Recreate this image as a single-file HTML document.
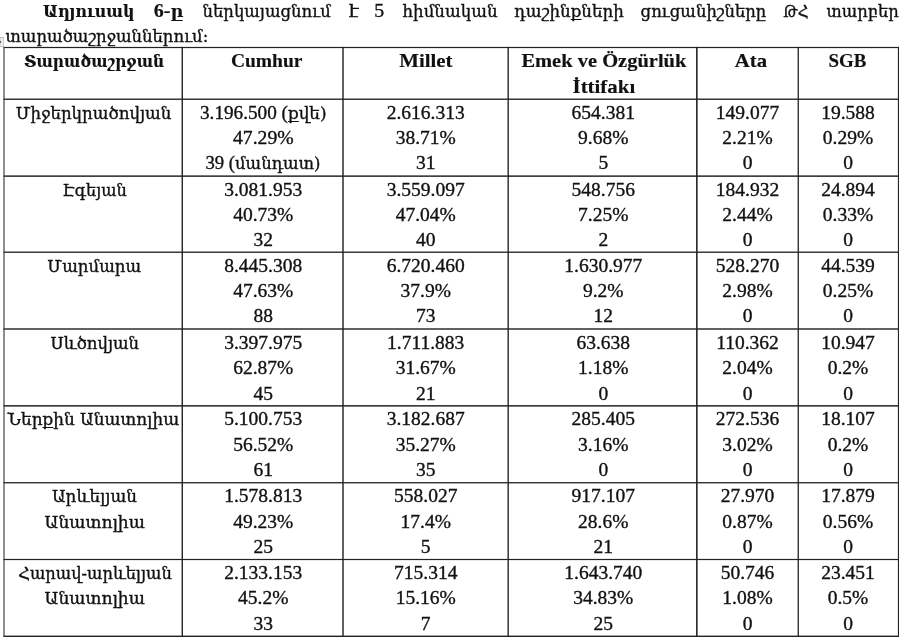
<!DOCTYPE html>
<html><head><meta charset="utf-8"><title>Աղյուսակ 6</title>
<style>
html,body{margin:0;padding:0;background:#fff;}
body{width:900px;height:637px;overflow:hidden;}
svg{display:block;}
text{font-family:'Liberation Serif', 'DejaVu Serif', serif;font-size:19.5px;fill:#111;stroke:#111;stroke-width:0.35px;}
</style></head><body>
<svg width="900" height="637" viewBox="0 0 900 637">
<rect x="0" y="0" width="900" height="637" fill="#fff"/>
<rect x="0" y="37.5" width="3.2" height="9" fill="#f4f6f8" stroke="#9fabb0" stroke-width="0.7"/>
<path d="M0 40.5 L1.6 42 L0 43.5 Z" fill="#556"/>
<rect x="3.4" y="46.9" width="895.6" height="1.2" fill="#222"/>
<rect x="3.4" y="98.55" width="895.6" height="1.35" fill="#222"/>
<rect x="3.4" y="175.4" width="895.6" height="1.46" fill="#222"/>
<rect x="3.4" y="251.55" width="895.6" height="1.33" fill="#222"/>
<rect x="3.4" y="328.29" width="895.6" height="1.42" fill="#222"/>
<rect x="3.4" y="405.12" width="895.6" height="1.48" fill="#222"/>
<rect x="3.4" y="482.1" width="895.6" height="1.3" fill="#222"/>
<rect x="3.4" y="558.9" width="895.6" height="1.2" fill="#222"/>
<rect x="3.4" y="635.6" width="895.6" height="1.4" fill="#222"/>
<rect x="3.4" y="46.9" width="1.2" height="590.1" fill="#444"/>
<rect x="181.57" y="46.9" width="1.4" height="590.1" fill="#222"/>
<rect x="342.29" y="46.9" width="1.42" height="590.1" fill="#222"/>
<rect x="507.5" y="46.9" width="1.36" height="590.1" fill="#222"/>
<rect x="696.05" y="46.9" width="1.57" height="590.1" fill="#222"/>
<rect x="797.6" y="46.9" width="1.3" height="590.1" fill="#222"/>
<rect x="897.9" y="46.9" width="1.1" height="590.1" fill="#222"/>
<text id="t0" x="42.95" y="17.00" textLength="91.60" lengthAdjust="spacingAndGlyphs" style="font-weight:bold;stroke-width:0.15px"><tspan font-family="'DejaVu Serif', 'Liberation Serif', serif" font-size="17.0">Աղյուսակ</tspan></text>
<text id="t1" x="153.70" y="17.00" textLength="29.60" lengthAdjust="spacingAndGlyphs" style="font-weight:bold;stroke-width:0.15px">6-<tspan font-family="'DejaVu Serif', 'Liberation Serif', serif" font-size="17.0">ը</tspan></text>
<text id="t2" x="202.50" y="17.00" textLength="128.30" lengthAdjust="spacingAndGlyphs"><tspan font-family="'DejaVu Serif', 'Liberation Serif', serif" font-size="17.2">ներկայացնում</tspan></text>
<text id="t3" x="348.70" y="17.00" textLength="10.10" lengthAdjust="spacingAndGlyphs"><tspan font-family="'DejaVu Serif', 'Liberation Serif', serif" font-size="17.2">է</tspan></text>
<text id="t4" x="374.20" y="17.00" textLength="9.90" lengthAdjust="spacingAndGlyphs">5</text>
<text id="t5" x="402.50" y="17.00" textLength="95.00" lengthAdjust="spacingAndGlyphs"><tspan font-family="'DejaVu Serif', 'Liberation Serif', serif" font-size="17.2">հիմնական</tspan></text>
<text id="t6" x="514.20" y="17.00" textLength="109.60" lengthAdjust="spacingAndGlyphs"><tspan font-family="'DejaVu Serif', 'Liberation Serif', serif" font-size="17.2">դաշինքների</tspan></text>
<text id="t7" x="640.60" y="17.00" textLength="125.70" lengthAdjust="spacingAndGlyphs"><tspan font-family="'DejaVu Serif', 'Liberation Serif', serif" font-size="17.2">ցուցանիշները</tspan></text>
<text id="t8" x="783.30" y="17.00" textLength="25.30" lengthAdjust="spacingAndGlyphs"><tspan font-family="'DejaVu Serif', 'Liberation Serif', serif" font-size="17.2">ԹՀ</tspan></text>
<text id="t9" x="826.50" y="17.00" textLength="72.30" lengthAdjust="spacingAndGlyphs"><tspan font-family="'DejaVu Serif', 'Liberation Serif', serif" font-size="17.2">տարբեր</tspan></text>
<text id="t10" x="5.45" y="42.30" textLength="202.85" lengthAdjust="spacingAndGlyphs"><tspan font-family="'DejaVu Serif', 'Liberation Serif', serif" font-size="17.2">տարածաշրջաններում:</tspan></text>
<text id="t11" x="24.00" y="67.10" textLength="140.20" lengthAdjust="spacingAndGlyphs" style="font-weight:bold;stroke-width:0.15px"><tspan font-family="'DejaVu Serif', 'Liberation Serif', serif" font-size="17.0">Տարածաշրջան</tspan></text>
<text id="t12" x="230.90" y="67.10" textLength="71.60" lengthAdjust="spacingAndGlyphs" style="font-weight:bold;stroke-width:0.15px">Cumhur</text>
<text id="t13" x="399.20" y="67.10" textLength="53.30" lengthAdjust="spacingAndGlyphs" style="font-weight:bold;stroke-width:0.15px">Millet</text>
<text id="t14" x="521.40" y="67.10" textLength="165.00" lengthAdjust="spacingAndGlyphs" style="font-weight:bold;stroke-width:0.15px">Emek ve Özgürlük</text>
<text id="t15" x="572.50" y="92.70" textLength="62.70" lengthAdjust="spacingAndGlyphs" style="font-weight:bold;stroke-width:0.15px">İttifakı</text>
<text id="t16" x="734.80" y="67.10" textLength="32.20" lengthAdjust="spacingAndGlyphs" style="font-weight:bold;stroke-width:0.15px">Ata</text>
<text id="t17" x="828.50" y="67.10" textLength="37.90" lengthAdjust="spacingAndGlyphs" style="font-weight:bold;stroke-width:0.15px">SGB</text>
<text id="t18" x="15.70" y="118.75" textLength="155.70" lengthAdjust="spacingAndGlyphs"><tspan font-family="'DejaVu Serif', 'Liberation Serif', serif" font-size="17.2">Միջերկրածովյան</tspan></text>
<text id="t19" x="200.00" y="118.75" textLength="126.60" lengthAdjust="spacingAndGlyphs">3.196.500 (<tspan font-family="'DejaVu Serif', 'Liberation Serif', serif" font-size="17.2">քվե)</tspan></text>
<text id="t20" x="233.00" y="144.05" textLength="60.70" lengthAdjust="spacingAndGlyphs">47.29%</text>
<text id="t21" x="205.40" y="169.35" textLength="115.10" lengthAdjust="spacingAndGlyphs">39 (<tspan font-family="'DejaVu Serif', 'Liberation Serif', serif" font-size="17.2">մանդատ)</tspan></text>
<text id="t22" x="425.70" y="118.75" text-anchor="middle">2.616.313</text>
<text id="t23" x="425.70" y="144.05" text-anchor="middle">38.71%</text>
<text id="t24" x="425.70" y="169.35" text-anchor="middle">31</text>
<text id="t25" x="603.30" y="118.75" text-anchor="middle">654.381</text>
<text id="t26" x="603.30" y="144.05" text-anchor="middle">9.68%</text>
<text id="t27" x="603.30" y="169.35" text-anchor="middle">5</text>
<text id="t28" x="747.50" y="118.75" text-anchor="middle">149.077</text>
<text id="t29" x="747.50" y="144.05" text-anchor="middle">2.21%</text>
<text id="t30" x="747.50" y="169.35" text-anchor="middle">0</text>
<text id="t31" x="848.00" y="118.75" text-anchor="middle">19.588</text>
<text id="t32" x="848.00" y="144.05" text-anchor="middle">0.29%</text>
<text id="t33" x="848.00" y="169.35" text-anchor="middle">0</text>
<text id="t34" x="62.50" y="195.75" textLength="64.30" lengthAdjust="spacingAndGlyphs"><tspan font-family="'DejaVu Serif', 'Liberation Serif', serif" font-size="17.2">Էգեյան</tspan></text>
<text id="t35" x="263.20" y="195.75" text-anchor="middle">3.081.953</text>
<text id="t36" x="263.20" y="221.05" text-anchor="middle">40.73%</text>
<text id="t37" x="263.20" y="246.35" text-anchor="middle">32</text>
<text id="t38" x="425.70" y="195.75" text-anchor="middle">3.559.097</text>
<text id="t39" x="425.70" y="221.05" text-anchor="middle">47.04%</text>
<text id="t40" x="425.70" y="246.35" text-anchor="middle">40</text>
<text id="t41" x="603.30" y="195.75" text-anchor="middle">548.756</text>
<text id="t42" x="603.30" y="221.05" text-anchor="middle">7.25%</text>
<text id="t43" x="603.30" y="246.35" text-anchor="middle">2</text>
<text id="t44" x="747.50" y="195.75" text-anchor="middle">184.932</text>
<text id="t45" x="747.50" y="221.05" text-anchor="middle">2.44%</text>
<text id="t46" x="747.50" y="246.35" text-anchor="middle">0</text>
<text id="t47" x="848.00" y="195.75" text-anchor="middle">24.894</text>
<text id="t48" x="848.00" y="221.05" text-anchor="middle">0.33%</text>
<text id="t49" x="848.00" y="246.35" text-anchor="middle">0</text>
<text id="t50" x="47.30" y="271.75" textLength="93.90" lengthAdjust="spacingAndGlyphs"><tspan font-family="'DejaVu Serif', 'Liberation Serif', serif" font-size="17.2">Մարմարա</tspan></text>
<text id="t51" x="263.20" y="271.75" text-anchor="middle">8.445.308</text>
<text id="t52" x="263.20" y="297.05" text-anchor="middle">47.63%</text>
<text id="t53" x="263.20" y="322.35" text-anchor="middle">88</text>
<text id="t54" x="425.70" y="271.75" text-anchor="middle">6.720.460</text>
<text id="t55" x="425.70" y="297.05" text-anchor="middle">37.9%</text>
<text id="t56" x="425.70" y="322.35" text-anchor="middle">73</text>
<text id="t57" x="603.30" y="271.75" text-anchor="middle">1.630.977</text>
<text id="t58" x="603.30" y="297.05" text-anchor="middle">9.2%</text>
<text id="t59" x="603.30" y="322.35" text-anchor="middle">12</text>
<text id="t60" x="747.50" y="271.75" text-anchor="middle">528.270</text>
<text id="t61" x="747.50" y="297.05" text-anchor="middle">2.98%</text>
<text id="t62" x="747.50" y="322.35" text-anchor="middle">0</text>
<text id="t63" x="848.00" y="271.75" text-anchor="middle">44.539</text>
<text id="t64" x="848.00" y="297.05" text-anchor="middle">0.25%</text>
<text id="t65" x="848.00" y="322.35" text-anchor="middle">0</text>
<text id="t66" x="50.50" y="348.95" textLength="88.60" lengthAdjust="spacingAndGlyphs"><tspan font-family="'DejaVu Serif', 'Liberation Serif', serif" font-size="17.2">Սևծովյան</tspan></text>
<text id="t67" x="263.20" y="348.95" text-anchor="middle">3.397.975</text>
<text id="t68" x="263.20" y="374.25" text-anchor="middle">62.87%</text>
<text id="t69" x="263.20" y="399.55" text-anchor="middle">45</text>
<text id="t70" x="425.70" y="348.95" text-anchor="middle">1.711.883</text>
<text id="t71" x="425.70" y="374.25" text-anchor="middle">31.67%</text>
<text id="t72" x="425.70" y="399.55" text-anchor="middle">21</text>
<text id="t73" x="603.30" y="348.95" text-anchor="middle">63.638</text>
<text id="t74" x="603.30" y="374.25" text-anchor="middle">1.18%</text>
<text id="t75" x="603.30" y="399.55" text-anchor="middle">0</text>
<text id="t76" x="747.50" y="348.95" text-anchor="middle">110.362</text>
<text id="t77" x="747.50" y="374.25" text-anchor="middle">2.04%</text>
<text id="t78" x="747.50" y="399.55" text-anchor="middle">0</text>
<text id="t79" x="848.00" y="348.95" text-anchor="middle">10.947</text>
<text id="t80" x="848.00" y="374.25" text-anchor="middle">0.2%</text>
<text id="t81" x="848.00" y="399.55" text-anchor="middle">0</text>
<text id="t82" x="7.60" y="425.25" textLength="171.60" lengthAdjust="spacingAndGlyphs"><tspan font-family="'DejaVu Serif', 'Liberation Serif', serif" font-size="17.2">Ներքին Անատոլիա</tspan></text>
<text id="t83" x="263.20" y="425.25" text-anchor="middle">5.100.753</text>
<text id="t84" x="263.20" y="450.55" text-anchor="middle">56.52%</text>
<text id="t85" x="263.20" y="475.85" text-anchor="middle">61</text>
<text id="t86" x="425.70" y="425.25" text-anchor="middle">3.182.687</text>
<text id="t87" x="425.70" y="450.55" text-anchor="middle">35.27%</text>
<text id="t88" x="425.70" y="475.85" text-anchor="middle">35</text>
<text id="t89" x="603.30" y="425.25" text-anchor="middle">285.405</text>
<text id="t90" x="603.30" y="450.55" text-anchor="middle">3.16%</text>
<text id="t91" x="603.30" y="475.85" text-anchor="middle">0</text>
<text id="t92" x="747.50" y="425.25" text-anchor="middle">272.536</text>
<text id="t93" x="747.50" y="450.55" text-anchor="middle">3.02%</text>
<text id="t94" x="747.50" y="475.85" text-anchor="middle">0</text>
<text id="t95" x="848.00" y="425.25" text-anchor="middle">18.107</text>
<text id="t96" x="848.00" y="450.55" text-anchor="middle">0.2%</text>
<text id="t97" x="848.00" y="475.85" text-anchor="middle">0</text>
<text id="t98" x="52.00" y="502.45" textLength="85.00" lengthAdjust="spacingAndGlyphs"><tspan font-family="'DejaVu Serif', 'Liberation Serif', serif" font-size="17.2">Արևելյան</tspan></text>
<text id="t99" x="44.60" y="527.75" textLength="100.40" lengthAdjust="spacingAndGlyphs"><tspan font-family="'DejaVu Serif', 'Liberation Serif', serif" font-size="17.2">Անատոլիա</tspan></text>
<text id="t100" x="263.20" y="502.45" text-anchor="middle">1.578.813</text>
<text id="t101" x="263.20" y="527.75" text-anchor="middle">49.23%</text>
<text id="t102" x="263.20" y="553.05" text-anchor="middle">25</text>
<text id="t103" x="425.70" y="502.45" text-anchor="middle">558.027</text>
<text id="t104" x="425.70" y="527.75" text-anchor="middle">17.4%</text>
<text id="t105" x="425.70" y="553.05" text-anchor="middle">5</text>
<text id="t106" x="603.30" y="502.45" text-anchor="middle">917.107</text>
<text id="t107" x="603.30" y="527.75" text-anchor="middle">28.6%</text>
<text id="t108" x="603.30" y="553.05" text-anchor="middle">21</text>
<text id="t109" x="747.50" y="502.45" text-anchor="middle">27.970</text>
<text id="t110" x="747.50" y="527.75" text-anchor="middle">0.87%</text>
<text id="t111" x="747.50" y="553.05" text-anchor="middle">0</text>
<text id="t112" x="848.00" y="502.45" text-anchor="middle">17.879</text>
<text id="t113" x="848.00" y="527.75" text-anchor="middle">0.56%</text>
<text id="t114" x="848.00" y="553.05" text-anchor="middle">0</text>
<text id="t115" x="18.20" y="579.15" textLength="153.60" lengthAdjust="spacingAndGlyphs"><tspan font-family="'DejaVu Serif', 'Liberation Serif', serif" font-size="17.2">Հարավ-արևելյան</tspan></text>
<text id="t116" x="44.60" y="604.45" textLength="100.40" lengthAdjust="spacingAndGlyphs"><tspan font-family="'DejaVu Serif', 'Liberation Serif', serif" font-size="17.2">Անատոլիա</tspan></text>
<text id="t117" x="263.20" y="579.15" text-anchor="middle">2.133.153</text>
<text id="t118" x="263.20" y="604.45" text-anchor="middle">45.2%</text>
<text id="t119" x="263.20" y="629.75" text-anchor="middle">33</text>
<text id="t120" x="425.70" y="579.15" text-anchor="middle">715.314</text>
<text id="t121" x="425.70" y="604.45" text-anchor="middle">15.16%</text>
<text id="t122" x="425.70" y="629.75" text-anchor="middle">7</text>
<text id="t123" x="603.30" y="579.15" text-anchor="middle">1.643.740</text>
<text id="t124" x="603.30" y="604.45" text-anchor="middle">34.83%</text>
<text id="t125" x="603.30" y="629.75" text-anchor="middle">25</text>
<text id="t126" x="747.50" y="579.15" text-anchor="middle">50.746</text>
<text id="t127" x="747.50" y="604.45" text-anchor="middle">1.08%</text>
<text id="t128" x="747.50" y="629.75" text-anchor="middle">0</text>
<text id="t129" x="848.00" y="579.15" text-anchor="middle">23.451</text>
<text id="t130" x="848.00" y="604.45" text-anchor="middle">0.5%</text>
<text id="t131" x="848.00" y="629.75" text-anchor="middle">0</text>
</svg>
</body></html>
